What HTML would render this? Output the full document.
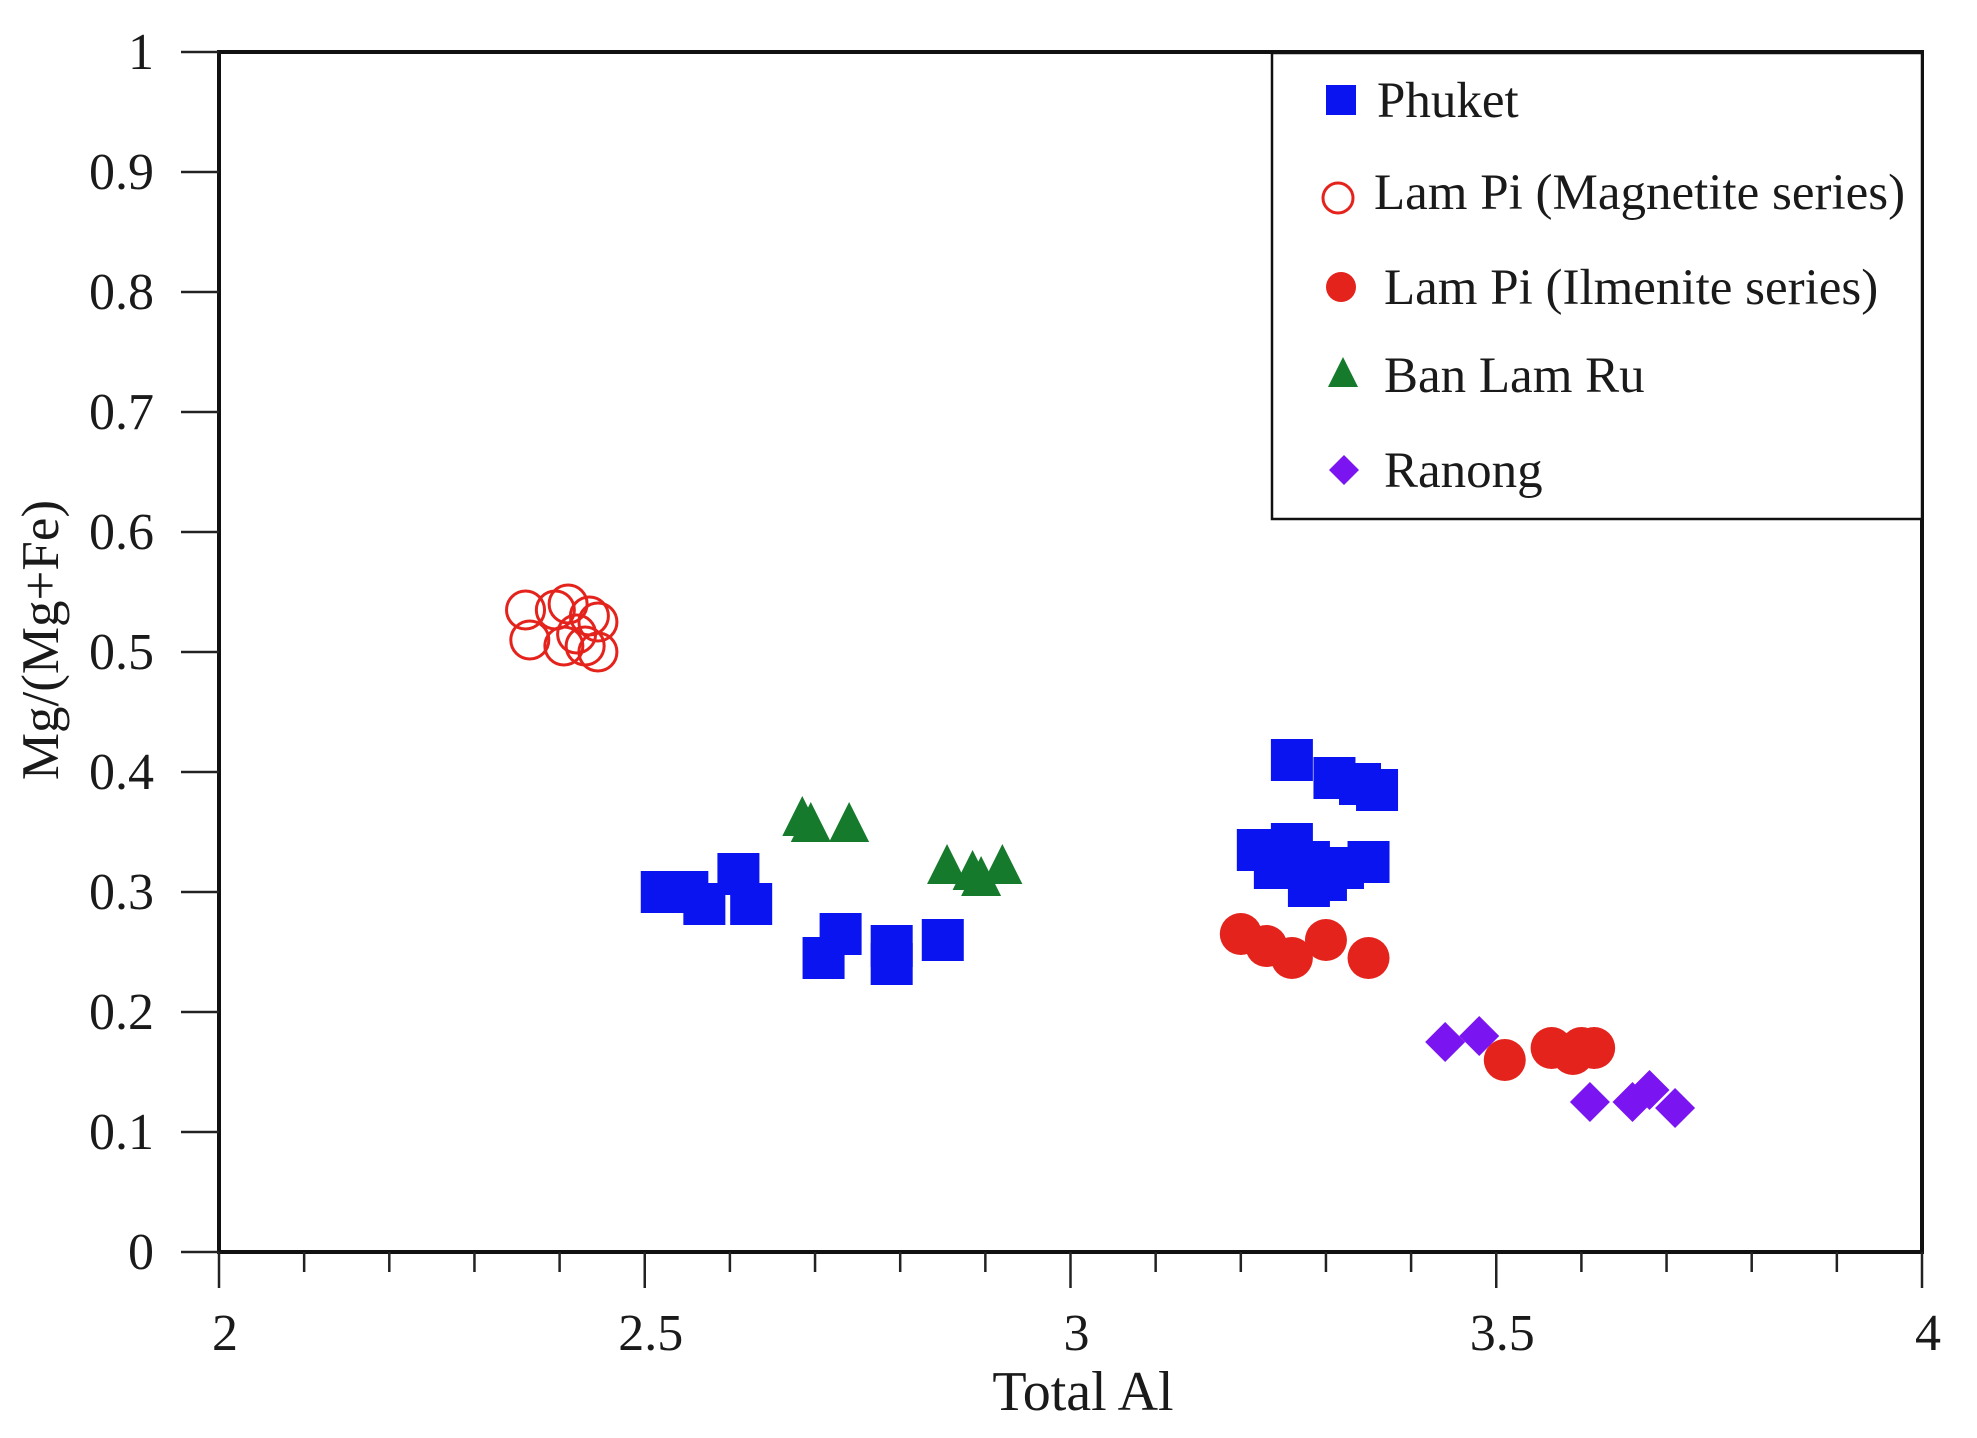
<!DOCTYPE html>
<html><head><meta charset="utf-8"><style>
html,body{margin:0;padding:0;background:#fff}
svg text{font-family:"Liberation Serif",serif;fill:#1a1a1a}
</style></head><body>
<svg width="1977" height="1433" viewBox="0 0 1977 1433">
<g id="axes"></g><g id="marks"></g><g id="legend"></g>
</svg>
<script>
const xTicks=[2,2.5,3,3.5,4];
const yTicks=[0,0.1,0.2,0.3,0.4,0.5,0.6,0.7,0.8,0.9,1];
const phuketX=[2.52,2.55,2.57,2.61,2.625,2.71,2.73,2.79,2.79,2.85,3.26,3.31,3.34,3.36,3.22,3.24,3.26,3.28,3.3,3.28,3.32,3.35,3.25];
const phuketY=[0.30,0.30,0.29,0.315,0.29,0.245,0.265,0.255,0.24,0.26,0.41,0.395,0.39,0.385,0.335,0.32,0.34,0.325,0.31,0.305,0.32,0.325,0.33];
const magX=[2.36,2.365,2.395,2.41,2.405,2.43,2.435,2.445,2.445,2.42];
const magY=[0.535,0.51,0.535,0.54,0.505,0.505,0.53,0.525,0.5,0.515];
const ilmX=[3.2,3.23,3.26,3.3,3.35,3.51,3.565,3.59,3.6,3.615];
const ilmY=[0.265,0.255,0.245,0.26,0.245,0.16,0.17,0.165,0.17,0.17];
const banX=[2.685,2.695,2.74,2.855,2.885,2.895,2.92];
const banY=[0.36,0.355,0.355,0.32,0.315,0.31,0.32];
const ranX=[3.44,3.48,3.61,3.66,3.68,3.71];
const ranY=[0.175,0.18,0.125,0.125,0.135,0.12];
const legendLabels=["Phuket","Lam Pi (Magnetite series)","Lam Pi (Ilmenite series)","Ban Lam Ru","Ranong"];

const X0=219,X1=1922,Y0=1252,Y1=52;
const sx=v=>X0+(v-2)/2*(X1-X0);
const sy=v=>Y0-v*(Y0-Y1);
const NS="http://www.w3.org/2000/svg";
function mk(tag,attrs,parent,text){const e=document.createElementNS(NS,tag);for(const k in attrs)e.setAttribute(k,attrs[k]);if(text!==undefined)e.textContent=text;parent.appendChild(e);return e;}
const axes=document.getElementById('axes'),marks=document.getElementById('marks'),legend=document.getElementById('legend');

let frame=mk('rect',{x:X0,y:Y1,width:X1-X0,height:Y0-Y1,fill:'none',stroke:'#111','stroke-width':4},axes);


for(let i=0;i<=20;i++){const v=2+i*0.1;const major=i%5===0;
 const t=mk('line',{x1:sx(v),x2:sx(v),y1:Y0,y2:Y0+(major?36:20),stroke:'#222','stroke-width':2.5},axes);
 
 }
xTicks.forEach(v=>{const t=mk('text',{x:sx(v)+6,y:1350,'font-size':52,'text-anchor':'middle'},axes,String(v));
 
 });
yTicks.forEach(v=>{const l=mk('line',{x1:181,x2:X0,y1:sy(v),y2:sy(v),stroke:'#222','stroke-width':2.5},axes);
 
 
 const t=mk('text',{x:154,y:sy(v)+17,'font-size':52,'text-anchor':'end'},axes,String(v));
 
 });
let xt=mk('text',{x:1083,y:1410,'font-size':56,'text-anchor':'middle'},axes,'Total Al');


let yt=mk('text',{x:0,y:0,'font-size':53,'text-anchor':'middle',transform:'translate(58,640) rotate(-90)'},axes,'Mg/(Mg+Fe)');



function square(p,x,y,s){return mk('rect',{x:x-s/2,y:y-s/2,width:s,height:s,fill:'#0a14f0'},p);}
function ocirc(p,x,y,r){return mk('circle',{cx:x,cy:y,r:r,fill:'none',stroke:'#e4231c','stroke-width':3},p);}
function fcirc(p,x,y,r){return mk('circle',{cx:x,cy:y,r:r,fill:'#e4231c'},p);}
function tri(p,x,y,s){return mk('polygon',{points:`${x},${y-s*0.6} ${x-s/2},${y+s*0.4} ${x+s/2},${y+s*0.4}`,fill:'#167a2c'},p);}
function dia(p,x,y,s){return mk('polygon',{points:`${x},${y-s/2} ${x+s/2},${y} ${x},${y+s/2} ${x-s/2},${y}`,fill:'#7a14f0'},p);}

magX.forEach((v,i)=>{const e=ocirc(marks,sx(v),sy(magY[i]),19);
 
 });
phuketX.forEach((v,i)=>{const e=square(marks,sx(v),sy(phuketY[i]),42);
 
 });
banX.forEach((v,i)=>{const e=tri(marks,sx(v),sy(banY[i]),40);
 
 });
ilmX.forEach((v,i)=>{const e=fcirc(marks,sx(v),sy(ilmY[i]),21);
 
 });
ranX.forEach((v,i)=>{const e=dia(marks,sx(v),sy(ranY[i]),40);
 
 });

let lb=mk('rect',{x:1272,y:53,width:650,height:466,fill:'#fff',stroke:'#111','stroke-width':2.5},legend);


const ly=[100,192,287,375,470],lx=[1377,1374,1384,1384,1384];
const fns=[(p,y)=>square(p,1341,y,30),(p,y)=>ocirc(p,1338,y+6,15),(p,y)=>fcirc(p,1341,y,15),(p,y)=>tri(p,1343,y,30),(p,y)=>dia(p,1344,y,30)];
legendLabels.forEach((s,i)=>{const m=fns[i](legend,ly[i]);
 
 
 const t=mk('text',{x:lx[i],y:ly[i]+17,'font-size':51},legend,s);
 
 });
</script>
</body></html>
